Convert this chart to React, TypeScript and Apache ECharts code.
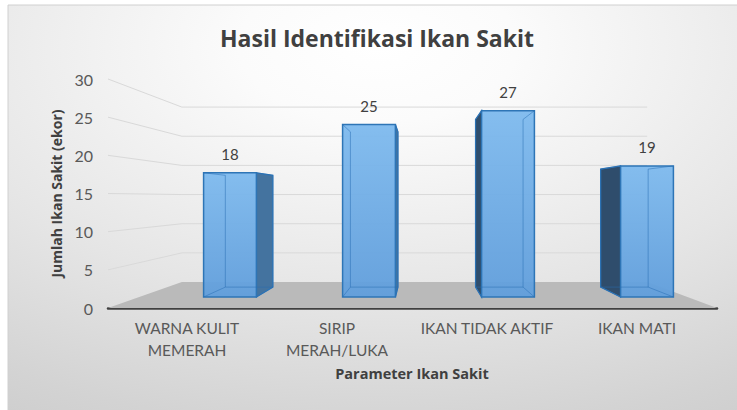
import React, { useEffect, useRef } from "react";
import * as echarts from "echarts";

const chartTitle = "Hasil Identifikasi Ikan Sakit";
const categories = ["WARNA KULIT\nMEMERAH", "SIRIP\nMERAH/LUKA", "IKAN TIDAK AKTIF", "IKAN MATI"];
const values = [18, 25, 27, 19];
const yTicks = [0, 5, 10, 15, 20, 25, 30];
const yAxisTitle = "Jumlah Ikan Sakit (ekor)";
const xAxisTitle = "Parameter Ikan Sakit";

const W = 737;
const H = 410;
const VP = [421, 198];
const WALL_K = 0.764;
const BAR_K = 0.9;
const BAR_RATIO = 0.38;
const FONT = "Lato, 'Open Sans', sans-serif";
const FONT_B = "'Open Sans', Lato, sans-serif";

function toBack(p: number[], k: number): number[] {
  return [VP[0] + (p[0] - VP[0]) * k, VP[1] + (p[1] - VP[1]) * k];
}

export default function App() {
  const ref = useRef<HTMLDivElement>(null);
  useEffect(() => {
    if (!ref.current) return;
    const chart = echarts.init(ref.current, undefined, { renderer: "svg" });
    const option: any = {
      animation: false,
      backgroundColor: "#ffffff",
      title: {
        text: chartTitle,
        left: 372,
        textAlign: "center",
        top: 21,
        textStyle: { fontFamily: FONT_B, fontWeight: "bold", fontSize: 23, color: "#404040" },
      },
      graphic: [
        {
          type: "rect",
          z: -10,
          silent: true,
          shape: { x: 8, y: 5, width: 740, height: 410 },
          style: {
            stroke: "#d0d0d0",
            lineWidth: 1,
            fill: {
              type: "radial",
              x: 0.5,
              y: 0.1,
              r: 1.25,
              colorStops: [
                { offset: 0, color: "#ffffff" },
                { offset: 0.15, color: "#fbfbfb" },
                { offset: 0.5, color: "#e5e5e5" },
                { offset: 0.75, color: "#d3d3d3" },
                { offset: 1, color: "#c4c4c4" },
              ],
            },
          },
        },
      ],
      grid: [
        { left: 160.5, right: W - 716.5, top: 90, bottom: H - 297, containLabel: false, outerBoundsMode: "none" },
        { left: 108, right: W - 717, top: 79, bottom: H - 308, containLabel: false, outerBoundsMode: "none" },
        { left: 112, right: W - 712, top: 79, bottom: H - 308, containLabel: false, outerBoundsMode: "none" },
      ],
      xAxis: [
        { gridIndex: 0, type: "category", data: categories, show: false },
        {
          gridIndex: 1,
          type: "value",
          min: 0,
          max: 1,
          axisLine: { show: true, onZero: false, lineStyle: { color: "#404040", width: 2.5 } },
          axisTick: { show: false },
          axisLabel: { show: false },
          splitLine: { show: false },
        },
        {
          gridIndex: 2,
          type: "category",
          data: categories,
          axisLine: { show: false },
          axisTick: { show: false },
          axisLabel: {
            margin: 9,
            interval: 0,
            fontFamily: FONT,
            fontSize: 15.5,
            lineHeight: 22,
            color: "#595959",
          },
          name: xAxisTitle,
          nameLocation: "middle",
          nameGap: 58,
          nameTextStyle: { fontFamily: FONT_B, fontWeight: "bold", fontSize: 14.5, color: "#404040" },
        },
      ],
      yAxis: [
        { gridIndex: 0, type: "value", min: 0, max: 30, show: false },
        {
          gridIndex: 1,
          type: "value",
          min: 0,
          max: 30,
          interval: 5,
          axisLine: { show: false },
          axisTick: { show: false },
          splitLine: { show: false },
          axisLabel: { margin: 15, fontFamily: FONT, fontSize: 16, color: "#595959" },
          name: yAxisTitle,
          nameLocation: "middle",
          nameGap: 42,
          nameTextStyle: { fontFamily: FONT_B, fontWeight: "bold", fontSize: 14, color: "#404040" },
        },
        { gridIndex: 2, type: "value", min: 0, max: 30, show: false },
      ],
      series: [
        {
          type: "custom",
          name: "wall",
          xAxisIndex: 1,
          yAxisIndex: 1,
          silent: true,
          z: 1,
          data: yTicks.map((v) => [0, v]),
          renderItem: (_params: any, api: any) => {
            const v = api.value(1);
            const fl = api.coord([0, v]);
            const fr = api.coord([1, v]);
            const bl = toBack(fl, WALL_K);
            const br = toBack(fr, WALL_K);
            if (v === 0) {
              return {
                type: "polygon",
                shape: { points: [fl, fr, br, bl] },
                style: { fill: "#bababa" },
              };
            }
            return {
              type: "polyline",
              shape: { points: [fl, bl, [br[0], bl[1]]] },
              style: { stroke: "#d9d9d9", lineWidth: 1, fill: null },
            };
          },
        },
        {
          type: "custom",
          name: "Jumlah",
          xAxisIndex: 0,
          yAxisIndex: 0,
          z: 3,
          data: values.map((v, i) => [i, v]),
          renderItem: (_params: any, api: any) => {
            const i = api.value(0);
            const v = api.value(1);
            const top = api.coord([i, v]);
            const base = api.coord([i, 0]);
            const band = api.size([1, 0])[0];
            const w = band * BAR_RATIO;
            const x0 = top[0] - w / 2;
            const x1 = top[0] + w / 2;
            const fTL = [x0, top[1]];
            const fTR = [x1, top[1]];
            const fBL = [x0, base[1]];
            const fBR = [x1, base[1]];
            const bTL = toBack(fTL, BAR_K);
            const bTR = toBack(fTR, BAR_K);
            const bBL = toBack(fBL, BAR_K);
            const bBR = toBack(fBR, BAR_K);
            const edge = "#2e75b6";
            const inner = "rgba(40,110,180,0.5)";
            const children: any[] = [];
            if (x1 < VP[0]) {
              children.push({
                type: "polygon",
                shape: { points: [fTR, bTR, bBR, fBR] },
                style: { fill: "#44739f", stroke: edge, lineWidth: 1.2 },
              });
            }
            if (x0 > VP[0]) {
              children.push({
                type: "polygon",
                shape: { points: [fTL, bTL, bBL, fBL] },
                style: { fill: "#2f4d6c", stroke: edge, lineWidth: 1.2 },
              });
            }
            if (bTL[1] < fTL[1]) {
              children.push({
                type: "polygon",
                shape: { points: [fTL, fTR, bTR, bTL] },
                style: { fill: "#8cc3f2", stroke: edge, lineWidth: 1.2 },
              });
            }
            children.push({
              type: "rect",
              shape: { x: x0, y: top[1], width: w, height: base[1] - top[1] },
              style: {
                fill: {
                  type: "linear",
                  x: 0,
                  y: 0,
                  x2: 0,
                  y2: 1,
                  colorStops: [
                    { offset: 0, color: "rgba(126,186,238,0.95)" },
                    { offset: 1, color: "rgba(96,158,220,0.95)" },
                  ],
                },
                stroke: edge,
                lineWidth: 1.5,
              },
            });
            // back edges seen through the glassy bar
            children.push({
              type: "polyline",
              shape: { points: [bTL, bBL, bBR, bTR] },
              style: { stroke: inner, lineWidth: 1, fill: null },
            });
            children.push({
              type: "line",
              shape: { x1: fBL[0], y1: fBL[1], x2: bBL[0], y2: bBL[1] },
              style: { stroke: inner, lineWidth: 1 },
            });
            children.push({
              type: "line",
              shape: { x1: fBR[0], y1: fBR[1], x2: bBR[0], y2: bBR[1] },
              style: { stroke: inner, lineWidth: 1 },
            });
            children.push({
              type: "line",
              shape: { x1: fTL[0], y1: fTL[1], x2: bTL[0], y2: bTL[1] },
              style: { stroke: inner, lineWidth: 1 },
            });
            children.push({
              type: "line",
              shape: { x1: fTR[0], y1: fTR[1], x2: bTR[0], y2: bTR[1] },
              style: { stroke: inner, lineWidth: 1 },
            });
            children.push({
              type: "text",
              x: top[0],
              y: top[1] - 19,
              style: {
                text: String(v),
                fill: "#404040",
                fontSize: 15,
                fontFamily: FONT,
                align: "center",
                verticalAlign: "middle",
              },
            });
            return { type: "group", children };
          },
        },
      ],
    };
    chart.setOption(option);
    return () => chart.dispose();
  }, []);
  return (
    <div
      ref={ref}
      style={{ position: "absolute", left: 0, top: 0, width: W, height: H, overflow: "hidden" }}
    />
  );
}
